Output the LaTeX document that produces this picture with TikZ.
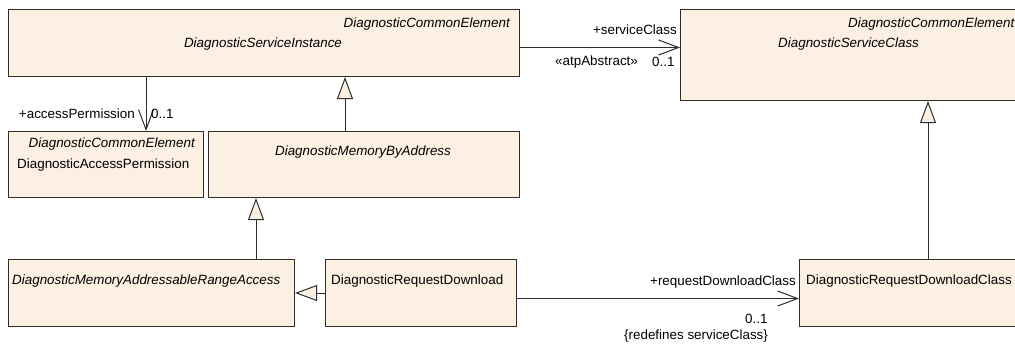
\documentclass[tikz,border=0pt]{standalone}
\usepackage{fontspec}
\setmainfont{Liberation Sans}
\usetikzlibrary{arrows.meta}
\definecolor{boxfill}{RGB}{251,240,225}
\definecolor{linec}{RGB}{45,45,45}
\begin{document}
\begin{tikzpicture}[x=1pt,y=-1pt,
  every node/.style={font=\fontsize{13.4}{16}\selectfont, inner sep=0pt, text=black},
  umlbox/.style={draw=linec, fill=boxfill, line width=1pt, anchor=north west, rectangle},
  assoc/.style={draw=linec, line width=1pt, -{Straight Barb[length=20pt,width=15pt,line width=1pt]}},
  gen/.style={draw=linec, line width=1pt, -{Triangle[length=22pt,width=16pt,fill=boxfill,line width=1pt]}}]
\useasboundingbox (0,0) rectangle (1015,343);
% boxes
\node[umlbox, minimum width=511pt, minimum height=67pt] (si) at (8,9) {};
\node[umlbox, minimum width=347pt, minimum height=91pt] (sc) at (680,9) {};
\node[umlbox, minimum width=195pt, minimum height=66pt] (ap) at (8,131) {};
\node[umlbox, minimum width=311pt, minimum height=66pt] (mba) at (208,131) {};
\node[umlbox, minimum width=286pt, minimum height=67pt] (mara) at (8,259) {};
\node[umlbox, minimum width=191pt, minimum height=67pt] (rd) at (325,259) {};
\node[umlbox, minimum width=223pt, minimum height=67pt] (rdc) at (799,259) {};
% box texts
\node[anchor=base east] (siste) at (510,27) {\itshape DiagnosticCommonElement};
\node[anchor=base] (sin) at (263,47) {\itshape DiagnosticServiceInstance};
\node[anchor=base west] (scste) at (848,27) {\itshape DiagnosticCommonElement};
\node[anchor=base west] (scn) at (778,47) {\itshape DiagnosticServiceClass};
\node[anchor=base east] (apste) at (195,147) {\itshape DiagnosticCommonElement};
\node[anchor=base west] (apn) at (17,168) {DiagnosticAccessPermission};
\node[anchor=base] (mban) at (363,155) {\itshape DiagnosticMemoryByAddress};
\node[anchor=base west] (maran) at (12,284) {\itshape DiagnosticMemoryAddressableRangeAccess};
\node[anchor=base west] (rdn) at (331,284) {DiagnosticRequestDownload};
\node[anchor=base west] (rdcn) at (806,284) {DiagnosticRequestDownloadClass};
% connectors
\draw[assoc] ([yshift=-4.5pt]si.east) -- ([yshift=-4.5pt]si.east -| sc.west);
\draw[assoc] ([xshift=138pt]si.south west) -- ([xshift=138pt]ap.north west);
\draw[gen] ([xshift=137pt]mba.north west) -- ([xshift=337pt]si.south west);
\draw[gen] ([xshift=248pt]mara.north west) -- ([xshift=48pt]mba.south west);
\draw[gen] (rd.west) -- (mara.east);
\draw[assoc] ([yshift=-5.5pt]rd.east) -- ([yshift=-5.5pt]rd.east -| rdc.west);
\draw[gen] ([xshift=129pt]rdc.north west) -- ([xshift=248pt]sc.south west);
% connector labels
\node[anchor=base east] (l1) at (677,34) {+serviceClass};
\node[anchor=base west] (l2) at (555,65) {«atpAbstract»};
\node[anchor=base west] (l3) at (652,66) {0..1};
\node[anchor=base east] (l4) at (135,118) {+accessPermission};
\node[anchor=base west] (l5) at (151,118) {0..1};
\node[anchor=base east] (l6) at (796,285) {+requestDownloadClass};
\node[anchor=base west] (l7) at (745,323) {0..1};
\node[anchor=base west] (l8) at (624,339) {\{redefines serviceClass\}};
\end{tikzpicture}
\end{document}
